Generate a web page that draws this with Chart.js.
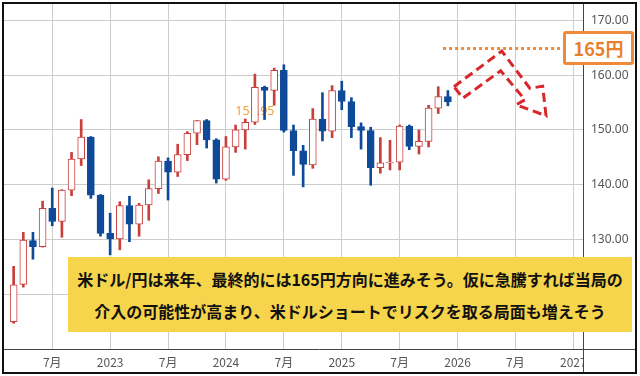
<!DOCTYPE html>
<html>
<head>
<meta charset="utf-8">
<script src="https://cdn.jsdelivr.net/npm/chart.js@4.4.1/dist/chart.umd.min.js"></script>
<style>
  html, body { margin: 0; padding: 0; background: #fff; }
  #wrap { position: relative; width: 640px; height: 376px; }
  #note {
    position: absolute; left: 68px; top: 257px; width: 564px; height: 75px;
    background: #f6d44c; display: flex; flex-direction: column;
    justify-content: center; align-items: center;
    font-family: "Noto Sans CJK JP", sans-serif; font-weight: bold;
    font-size: 16px; line-height: 32px; color: #111; white-space: nowrap;
  }
  #target {
    position: absolute; left: 563px; top: 31px; width: 65px; height: 28px;
    border: 3px solid #ee8a3a; border-radius: 3px; background: #fff;
    display: flex; justify-content: center; align-items: center;
    font-family: "Noto Sans CJK JP", sans-serif; font-weight: bold;
    font-size: 18px; color: #e8812c;
  }
</style>
</head>
<body>
<div id="wrap">
  <canvas id="fxChart" width="640" height="376"></canvas>
  <div id="target">165円</div>
  <div id="note">
    <div>米ドル/円は来年、最終的には165円方向に進みそう。仮に急騰すれば当局の</div>
    <div>介入の可能性が高まり、米ドルショートでリスクを取る局面も増えそう</div>
  </div>
</div>
<script>
// monthly USD/JPY candles
var months = [
    '2022-03', '2022-04', '2022-05', '2022-06', '2022-07', '2022-08', '2022-09', '2022-10', '2022-11', '2022-12',
    '2023-01', '2023-02', '2023-03', '2023-04', '2023-05', '2023-06', '2023-07', '2023-08', '2023-09', '2023-10', '2023-11', '2023-12',
    '2024-01', '2024-02', '2024-03', '2024-04', '2024-05', '2024-06', '2024-07', '2024-08', '2024-09', '2024-10', '2024-11', '2024-12',
    '2025-01', '2025-02', '2025-03', '2025-04', '2025-05', '2025-06', '2025-07', '2025-08', '2025-09', '2025-10', '2025-11', '2025-12'
];
var opens = [
    115.0, 121.8, 129.8, 128.7, 135.7, 133.3, 139.0, 144.7, 148.7, 138.1,
    131.1, 130.1, 136.2, 132.8, 136.3, 139.3, 144.3, 142.3, 145.5, 149.4, 151.7, 148.2,
    141.0, 146.9, 150.0, 151.4, 157.8, 157.2, 160.9, 149.9, 146.2, 143.6, 152.0, 149.8,
    157.2, 155.2, 150.6, 149.9, 143.1, 144.0, 144.1, 150.7, 147.0, 147.9, 154.0, 156.1
];
var highs = [
    125.1, 131.3, 131.3, 137.0, 139.4, 139.1, 145.9, 151.9, 148.8, 138.2,
    134.8, 136.9, 137.9, 136.6, 140.9, 145.1, 144.9, 147.4, 149.7, 151.7, 151.9, 148.4,
    148.8, 150.9, 152.0, 160.2, 158.0, 161.3, 161.9, 150.9, 147.2, 153.9, 156.8, 158.1,
    158.9, 155.9, 151.3, 150.5, 148.6, 148.1, 150.9, 150.9, 150.0, 154.5, 157.9, 157.2
];
var lows = [
    114.7, 121.3, 126.4, 128.6, 132.5, 130.4, 138.0, 143.5, 137.5, 130.6,
    127.2, 128.1, 129.6, 130.6, 133.5, 138.4, 137.2, 141.5, 144.4, 147.3, 146.7, 140.3,
    140.8, 145.9, 146.5, 151.0, 151.9, 154.5, 149.6, 141.7, 139.6, 143.0, 148.0, 148.6,
    153.7, 148.6, 146.5, 139.9, 142.1, 142.7, 142.7, 146.4, 145.6, 146.9, 153.0, 154.4
];
var closes = [
    121.7, 129.9, 128.7, 135.7, 133.3, 139.0, 144.7, 148.7, 138.1, 131.1,
    130.1, 136.2, 132.8, 136.3, 139.3, 144.3, 142.3, 145.5, 149.4, 151.7, 148.2, 141.0,
    146.9, 150.0, 151.4, 157.8, 157.2, 160.9, 149.9, 146.2, 143.7, 152.0, 149.8, 157.2,
    155.2, 150.6, 149.9, 143.1, 144.0, 144.1, 150.7, 147.0, 147.9, 154.0, 156.1, 155.1
];

// x axis: months counted from Jan 2022
var tickMonths = [6, 12, 18, 24, 30, 36, 42, 48, 54, 60];
var tickLabels = ['7月', '2023', '7月', '2024', '7月', '2025', '7月', '2026', '7月', '2027'];
var priceTicks = [120, 130, 140, 150, 160, 170];

// annotations (month index, price)
var targetLevel = 165;
var targetFrom = 46.5, targetTo = 58.8;
var arrowX = [47.63, 52.58, 55.5, 56.82, 57.17, 54.06, 54.99, 52.47, 48.56];
var arrowY = [157.9, 164.4, 157.6, 158.0, 152.6, 154.6, 155.5, 160.8, 155.8];
var noteText = '151.95', noteMonth = 27, notePrice = 153.3;

var upColor = '#c8403c';
var downColor = '#0e4a98';

function monthIndex(s) {
    var p = s.split('-');
    return (parseInt(p[0]) - 2022) * 12 + (parseInt(p[1]) - 1);
}
function isUp(i) { return closes[i] >= opens[i]; }

var bodyData = months.map(function (m, i) { return { x: monthIndex(m), y: [opens[i], closes[i]] }; });
var wickData = months.map(function (m, i) { return { x: monthIndex(m), y: [lows[i], highs[i]] }; });

var overlay = {
    id: 'overlay',
    beforeDatasetsDraw: function (chart) {
        var ctx = chart.ctx, xs = chart.scales.x, ys = chart.scales.y;
        ctx.save();
        ctx.font = '12.5px "Noto Sans", sans-serif';
        ctx.fillStyle = '#f0a233';
        ctx.textAlign = 'center';
        ctx.textBaseline = 'middle';
        ctx.fillText(noteText, xs.getPixelForValue(noteMonth), ys.getPixelForValue(notePrice));
        ctx.restore();
    },
    afterDatasetsDraw: function (chart) {
        var ctx = chart.ctx, xs = chart.scales.x, ys = chart.scales.y;
        ctx.save();
        // dotted target line
        ctx.strokeStyle = '#ee8a3a';
        ctx.lineWidth = 3;
        ctx.setLineDash([3, 3]);
        var ty = Math.round(ys.getPixelForValue(targetLevel)) + 0.5;
        ctx.beginPath();
        ctx.moveTo(xs.getPixelForValue(targetFrom), ty);
        ctx.lineTo(xs.getPixelForValue(targetTo), ty);
        ctx.stroke();
        // dashed zigzag arrow
        ctx.strokeStyle = '#d8262b';
        ctx.lineWidth = 3;
        ctx.lineJoin = 'miter';
        ctx.setLineDash([9, 5]);
        ctx.beginPath();
        arrowX.forEach(function (v, i) {
            var px = xs.getPixelForValue(v), py = ys.getPixelForValue(arrowY[i]);
            if (i === 0) ctx.moveTo(px, py); else ctx.lineTo(px, py);
        });
        ctx.closePath();
        ctx.stroke();
        ctx.restore();
    },
    afterDraw: function (chart) {
        var ctx = chart.ctx, a = chart.chartArea;
        ctx.save();
        // hide the part of the last year label that runs under the price panel
        ctx.fillStyle = '#fff';
        ctx.fillRect(a.right + 1, a.bottom + 1, 634 - a.right, 371 - a.bottom);
        ctx.strokeStyle = '#444';
        ctx.lineWidth = 1;
        ctx.beginPath();
        ctx.moveTo(a.right + 0.5, 3);
        ctx.lineTo(a.right + 0.5, 373);
        ctx.moveTo(3, a.bottom + 0.5);
        ctx.lineTo(636, a.bottom + 0.5);
        ctx.stroke();
        ctx.strokeStyle = '#111';
        ctx.lineWidth = 2;
        ctx.strokeRect(3, 3, 633, 370);
        ctx.restore();
    }
};

var ctx = document.getElementById('fxChart').getContext('2d');
var myChart = new Chart(ctx, {
    type: 'bar',
    data: {
        datasets: [
            {
                data: bodyData,
                backgroundColor: function (c) { return isUp(c.dataIndex) ? '#ffffff' : downColor; },
                borderColor: function (c) { return isUp(c.dataIndex) ? upColor : downColor; },
                borderWidth: 1,
                borderSkipped: false,
                barThickness: 7,
                grouped: false,
                order: 1,
            },
            {
                data: wickData,
                backgroundColor: function (c) { return isUp(c.dataIndex) ? upColor : downColor; },
                borderWidth: 0,
                barThickness: 2,
                grouped: false,
                order: 2,
            },
        ],
    },
    options: {
        responsive: false,
        animation: false,
        devicePixelRatio: 1,
        layout: { padding: { left: 4, top: 4, right: 5, bottom: 3 } },
        plugins: { legend: { display: false }, tooltip: { enabled: false } },
        scales: {
            x: {
                type: 'linear',
                min: 1,
                max: 61,
                offset: false,
                grid: { color: '#cccccc', drawTicks: false, offset: false },
                border: { display: false },
                afterBuildTicks: function (s) { s.ticks = tickMonths.map(function (v) { return { value: v }; }); },
                afterFit: function (s) { s.height = 24; s.paddingLeft = 0; s.paddingRight = 0; },
                ticks: {
                    autoSkip: false,
                    maxRotation: 0,
                    padding: 6,
                    color: '#555',
                    font: { size: 12, family: '"Noto Sans CJK JP", sans-serif' },
                    callback: function (v, i) { return tickLabels[i]; },
                },
            },
            y: {
                type: 'linear',
                position: 'right',
                min: 110,
                max: 173,
                grid: { color: '#cccccc', drawTicks: false },
                border: { display: false },
                afterBuildTicks: function (s) { s.ticks = priceTicks.map(function (v) { return { value: v }; }); },
                afterFit: function (s) { s.width = 52; s.paddingTop = 0; s.paddingBottom = 0; },
                ticks: {
                    padding: 8,
                    color: '#555',
                    font: { size: 12, family: '"Noto Sans", sans-serif' },
                    callback: function (v) { return v.toFixed(2); },
                },
            },
        },
    },
    plugins: [overlay],
});
</script>
</body>
</html>
